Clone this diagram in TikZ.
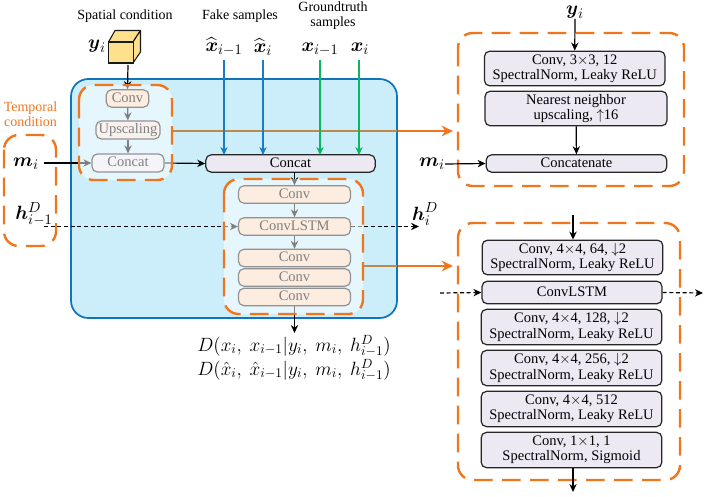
\documentclass[tikz,border=0pt]{standalone}
\usepackage{fontspec}
\usepackage{amsmath}
\setmainfont{Liberation Serif}
\usetikzlibrary{arrows.meta}
\definecolor{panelblue}{HTML}{CCEEFB}
\definecolor{edgeblue}{HTML}{0F75BC}
\definecolor{accent}{HTML}{F0761E}
\definecolor{mutedaccent}{HTML}{BC8A4B}
\definecolor{sampleblue}{HTML}{1B7CC4}
\definecolor{samplegreen}{HTML}{0DB562}
\definecolor{layergrey}{HTML}{ECE9F2}
\definecolor{layerpeach}{HTML}{FBD9C1}
\definecolor{cubeyellow}{HTML}{FFE08C}
\tikzset{
  layerbase/.style={draw=black!85, line width=0.9pt, rounded corners=4pt, inner sep=0pt, align=center,
    font=\fontsize{10.9}{11.4}\selectfont},
  layer/.style={layerbase, text height=7.5pt, text depth=2pt},
  greybox/.style={layer, fill=layergrey},
  peachbox/.style={layer, fill=layerpeach},
  greypair/.style={layerbase, fill=layergrey},
  flow/.style={-{Stealth[length=6pt,width=5.5pt]}, line width=0.9pt, black},
  dashflow/.style={flow, dash pattern=on 3pt off 2pt},
  feedblue/.style={-{Stealth[length=6pt,width=5.5pt]}, line width=0.8pt, sampleblue},
  feedgreen/.style={-{Stealth[length=6pt,width=5.5pt]}, line width=0.8pt, samplegreen},
  callout/.style={-{Stealth[length=8.5pt,width=8pt]}, line width=2.2pt, accent},
  dashregion/.style={draw=accent, line width=1.8pt, dash pattern=on 14pt off 7pt, rounded corners=11pt},
  veil/.style={fill=white, fill opacity=0.5, rounded corners=11pt},
  caption/.style={font=\fontsize{10.5}{11.5}\selectfont, align=center, inner sep=0pt},
  symbol/.style={font=\fontsize{15.5}{17}\selectfont, inner sep=0pt},
  formula/.style={font=\fontsize{13.8}{16}\selectfont, inner sep=0pt},
}
\begin{document}
\begin{tikzpicture}[x=0.75pt,y=-0.75pt]
\useasboundingbox (0,0) rectangle (706,496);

% Orange callouts run behind the tinted panel
\coordinate (callAstart) at (172,131);
\coordinate (callAend) at (453,131);
\coordinate (callBstart) at (362,266);
\coordinate (callBend) at (453,266);
\coordinate (panelEdgeA) at (397,131);
\coordinate (panelEdgeB) at (397,266);
\draw[callout] (callAstart) -- (callAend);
\draw[callout] (callBstart) -- (callBend);

% Main discriminator panel
\draw[fill=panelblue, draw=edgeblue, line width=1.3pt, rounded corners=13pt] (71,79) rectangle (397,318);
\draw[line width=2.2pt, mutedaccent] (callAstart) -- (panelEdgeA);
\draw[line width=2.2pt, mutedaccent] (callBstart) -- (panelEdgeB);

% Spatial condition cube
\draw[fill=cubeyellow, draw=black!90, line width=0.8pt, line join=round]
  (108.5,42) -- (115,30.5) -- (140.5,30.5) -- (133,42) -- cycle;
\draw[fill=cubeyellow, draw=black!90, line width=0.8pt, line join=round]
  (133,42) -- (140.5,30.5) -- (140.5,52) -- (133,63) -- cycle;
\node[draw=black!90, fill=cubeyellow, line width=0.8pt, minimum width=18.4pt, minimum height=15.75pt, inner sep=0pt, anchor=north west, outer sep=0pt] (cube) at (108.5,42) {};

% Captions and input symbols
\node[caption] (capSpatial) at (125,16) {Spatial condition};
\node[caption] (capFake) at (240,16) {Fake samples};
\node[caption] (capTruth) at (333,15.5) {Groundtruth\\samples};
\node[caption, text=accent] (capTemporal) at (30.5,114) {Temporal\\condition};
\node[symbol] (symY) at (97,46) {$\boldsymbol{y}_i$};
\node[symbol] (symFakePrev) at (224,47) {$\widehat{\boldsymbol{x}}_{i-1}$};
\node[symbol] (symFake) at (263,47) {$\widehat{\boldsymbol{x}}_{i}$};
\node[symbol] (symTruthPrev) at (320,49) {$\boldsymbol{x}_{i-1}$};
\node[symbol] (symTruth) at (360,49) {$\boldsymbol{x}_{i}$};
\node[symbol] (symM) at (26,164) {$\boldsymbol{m}_i$};
\node[symbol] (symHprev) at (34,214) {$\boldsymbol{h}_{i-1}^{D}$};
\node[symbol] (symH) at (425,214) {$\boldsymbol{h}_{i}^{D}$};

% Left encoder stack
\node[peachbox, minimum width=32pt, minimum height=13pt] (condConv) at (127.5,98.5) {Conv};
\node[peachbox, minimum width=48pt, minimum height=13.5pt, fill=layergrey!60!layerpeach] (condUp) at (128,130) {Upscaling};
\node[greybox, minimum width=54pt, minimum height=13.5pt] (condCat) at (128,163) {Concat};

% Main concatenation
\node[greybox, minimum width=127pt, minimum height=13pt] (mainCat) at (290.5,163.5) {Concat};

% Discriminator stack
\node[peachbox, minimum width=84pt, minimum height=13pt] (dConvA) at (294.5,194.5) {Conv};
\node[peachbox, minimum width=84pt, minimum height=13pt] (dLstm) at (294.5,226.5) {ConvLSTM};
\node[peachbox, minimum width=84pt, minimum height=13pt] (dConvB) at (294.5,258) {Conv};
\node[peachbox, minimum width=84pt, minimum height=13pt] (dConvC) at (294.5,277.5) {Conv};
\node[peachbox, minimum width=84pt, minimum height=13pt] (dConvD) at (294.5,297) {Conv};

% Sample inputs
\coordinate (fakePrevIn) at (224,60);
\coordinate (fakeIn) at (263,60);
\coordinate (truthPrevIn) at (320,60);
\coordinate (truthIn) at (359,60);
\coordinate (fakePrevHit) at (224,155);
\coordinate (fakeHit) at (263,155);
\coordinate (truthPrevHit) at (320,155);
\coordinate (truthHit) at (359,155);
\draw[feedblue] (fakePrevIn) -- (fakePrevHit);
\draw[feedblue] (fakeIn) -- (fakeHit);
\draw[feedgreen] (truthPrevIn) -- (truthPrevHit);
\draw[feedgreen] (truthIn) -- (truthHit);

% Connectors through the left and centre stacks
\coordinate (mStart) at (44,163);
\coordinate (hStart) at (44,226.5);
\coordinate (hEnd) at (419,226.5);
\coordinate (outEnd) at (294.5,333);
\draw[flow] (128,65) -- (condConv.north);
\draw[flow] (condConv) -- (condUp);
\draw[flow] (condUp) -- (condCat);
\draw[flow] (mStart) -- (condCat.west);
\draw[flow] (condCat.east) -- (mainCat.west);
\draw[flow] (294.5,172) -- (dConvA.north);
\draw[flow] (dConvA) -- (dLstm);
\draw[flow] (dLstm) -- (dConvB);
\draw[dashflow] (hStart) -- (dLstm.west);
\draw[dashflow] (dLstm.east) -- (hEnd);
\draw[flow] (dConvD.south) -- (outEnd);

% Faded highlight regions
\fill[veil] (79,85) rectangle (172,180);
\fill[veil] (224,179) rectangle (363,314);
\draw[dashregion] (79,85) rectangle (172,180);
\draw[dashregion] (224,179) rectangle (363,314);
\draw[dashregion] (4,135) rectangle (56,246);

% Output expressions
\node[formula] (outReal) at (294,346) {$D(x_i,\ x_{i-1}|y_i,\ m_i,\ h_{i-1}^{D})$};
\node[formula] (outFake) at (294,370) {$D(\hat{x}_i,\ \hat{x}_{i-1}|y_i,\ m_i,\ h_{i-1}^{D})$};

% Conditioning detail panel
\draw[dashregion] (458,33) rectangle (684,186);
\node[symbol] (detailY) at (575,12) {$\boldsymbol{y}_i$};
\node[symbol] (detailM) at (432,164) {$\boldsymbol{m}_i$};
\node[greypair, minimum width=135.5pt, minimum height=26pt] (aConv) at (574.75,68.5) {Conv, 3$\times$3, 12\\SpectralNorm, Leaky ReLU};
\node[greypair, minimum width=136.5pt, minimum height=26pt] (aNear) at (576,108.5) {Nearest neighbor\\upscaling, $\uparrow$16};
\node[greybox, minimum width=135.5pt, minimum height=13pt] (aCat) at (576.5,163.5) {Concatenate};
\draw[flow] (detailY.south) -- (aConv.north);
\draw[flow] (aNear) -- (aCat);
\draw[flow] (detailM.east) -- (aCat.west);

% Discriminator detail panel
\draw[dashregion] (458,223) rectangle (680,480);
\coordinate (bTop) at (573,215);
\coordinate (bBottom) at (573,492);
\coordinate (bLeft) at (440,293);
\coordinate (bRight) at (703,293);
\node[greypair, minimum width=135.5pt, minimum height=26pt] (bConvA) at (572.5,257.5) {Conv, 4$\times$4, 64, $\downarrow$2\\SpectralNorm, Leaky ReLU};
\node[greybox, minimum width=135pt, minimum height=17pt] (bLstm) at (572,292.5) {ConvLSTM};
\node[greypair, minimum width=135.5pt, minimum height=26.5pt] (bConvB) at (571.5,327) {Conv, 4$\times$4, 128, $\downarrow$2\\SpectralNorm, Leaky ReLU};
\node[greypair, minimum width=135.5pt, minimum height=26.5pt] (bConvC) at (571.5,368) {Conv, 4$\times$4, 256, $\downarrow$2\\SpectralNorm, Leaky ReLU};
\node[greypair, minimum width=135.5pt, minimum height=26.5pt] (bConvD) at (571.5,409) {Conv, 4$\times$4, 512\\SpectralNorm, Leaky ReLU};
\node[greypair, minimum width=135.5pt, minimum height=26.5pt] (bConvE) at (571.5,450) {Conv, 1$\times$1, 1\\SpectralNorm, Sigmoid};
\draw[flow] (bTop) -- (bTop |- bConvA.north);
\draw[flow] (bBottom |- bConvE.south) -- (bBottom);
\draw[dashflow] (bLeft) -- (bLstm.west);
\draw[dashflow] (bLstm.east) -- (bRight);
\end{tikzpicture}
\end{document}
